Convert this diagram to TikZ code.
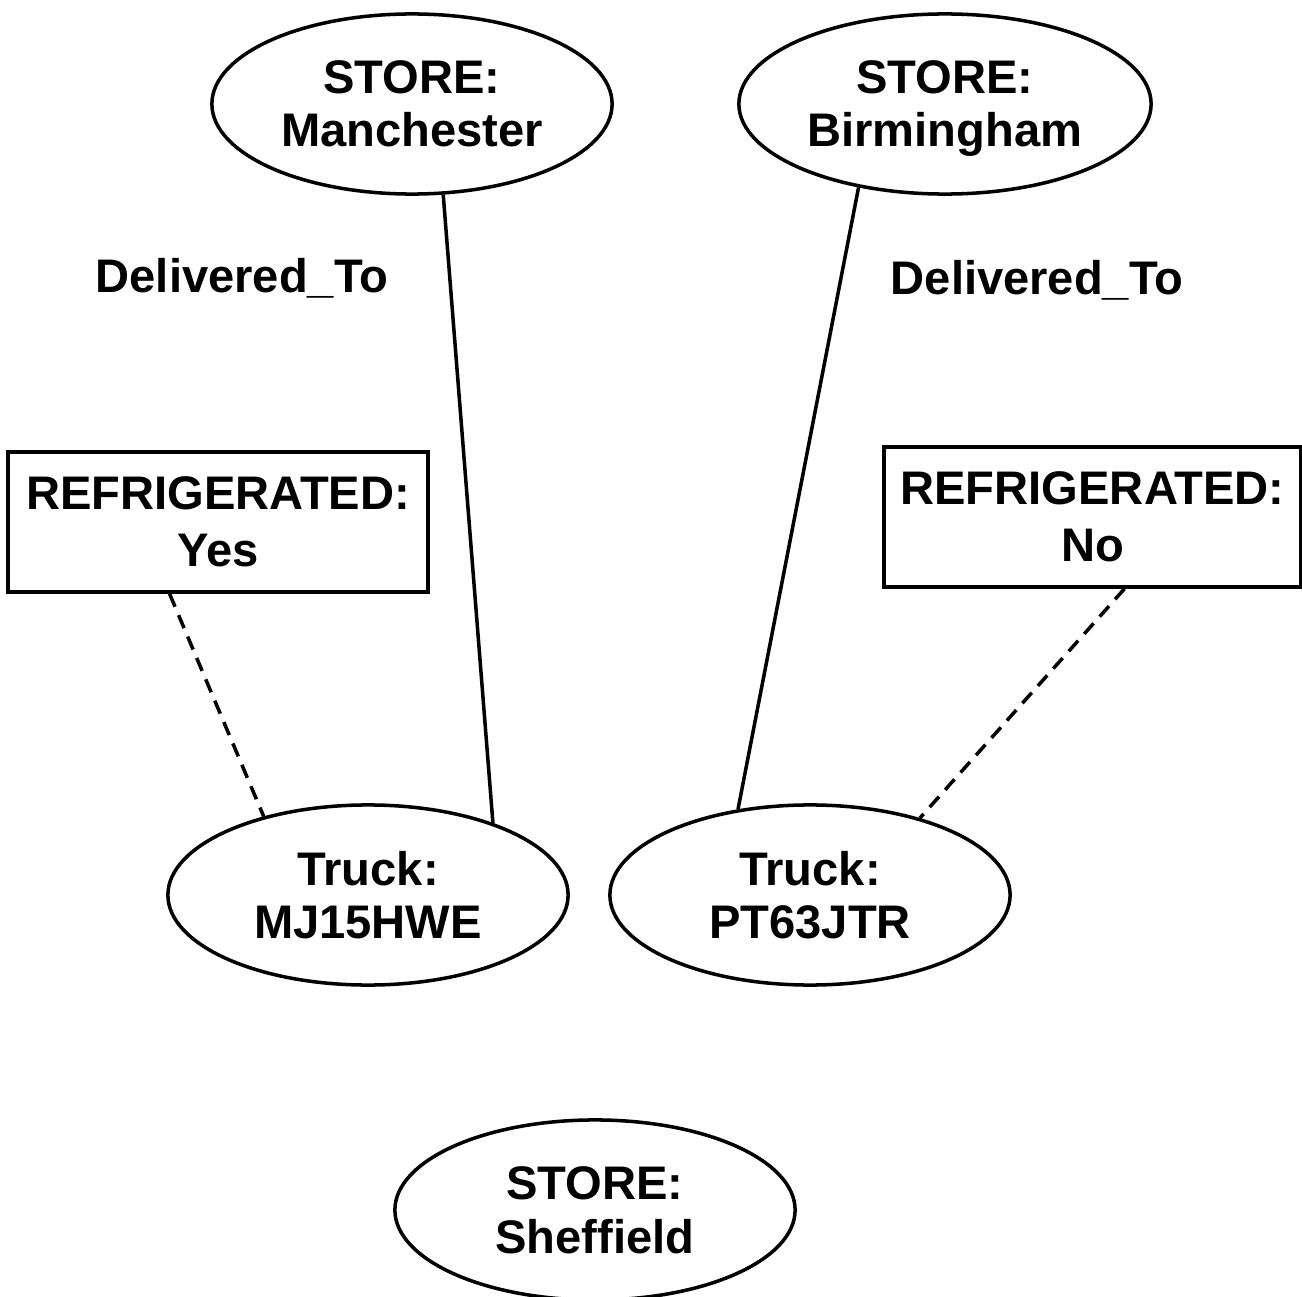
\documentclass[tikz,border=0pt]{standalone}
\usepackage{fontspec}
\setmainfont{Liberation Sans}
\usetikzlibrary{shapes.geometric}
\begin{document}
\begin{tikzpicture}
          [x=0.01cm,y=-0.01cm,line width=1pt,
           every node/.style={font=\bfseries\fontsize{13.4}{15.1}\selectfont,align=center,inner sep=0pt},
           entity/.style={draw,ellipse,minimum width=4cm,minimum height=1.8cm,text depth=0pt},
           attr/.style={draw,rectangle,minimum width=4.2cm,minimum height=1.4cm,
                        font=\bfseries\fontsize{13.4}{16.2}\selectfont},
           link/.style={dash pattern=on 4pt off 2.6pt}]
          \useasboundingbox (0,0) rectangle (1302,1297);

          \node[entity] (man) at (412,104) {STORE:\\Manchester};
          \node[entity,minimum width=4.12cm] (birm) at (945,104) {STORE:\\Birmingham};
          \node[entity] (mj) at (368,895) {Truck:\\MJ15HWE};
          \node[entity] (pt) at (810,895) {Truck:\\PT63JTR};
          \node[entity] (shef) at (595,1210) {STORE:\\Sheffield};

          \node[attr] (yes) at (218,522) {REFRIGERATED:\\Yes};
          \node[attr,minimum width=4.17cm] (no) at (1092.5,517) {REFRIGERATED:\\No};

          \node (del1) at (242,278) {Delivered\_To};
          \node (del2) at (1037,280) {Delivered\_To};

          \foreach \from/\to in {man.-71/mj.30,birm.-136/pt.130}
            \draw (\from) -- (\to);
          \foreach \from/\to in {yes.-124/mj.143,no.-66/pt.35}
            \draw[link] (\from) -- (\to);

        \end{tikzpicture}
\end{document}
